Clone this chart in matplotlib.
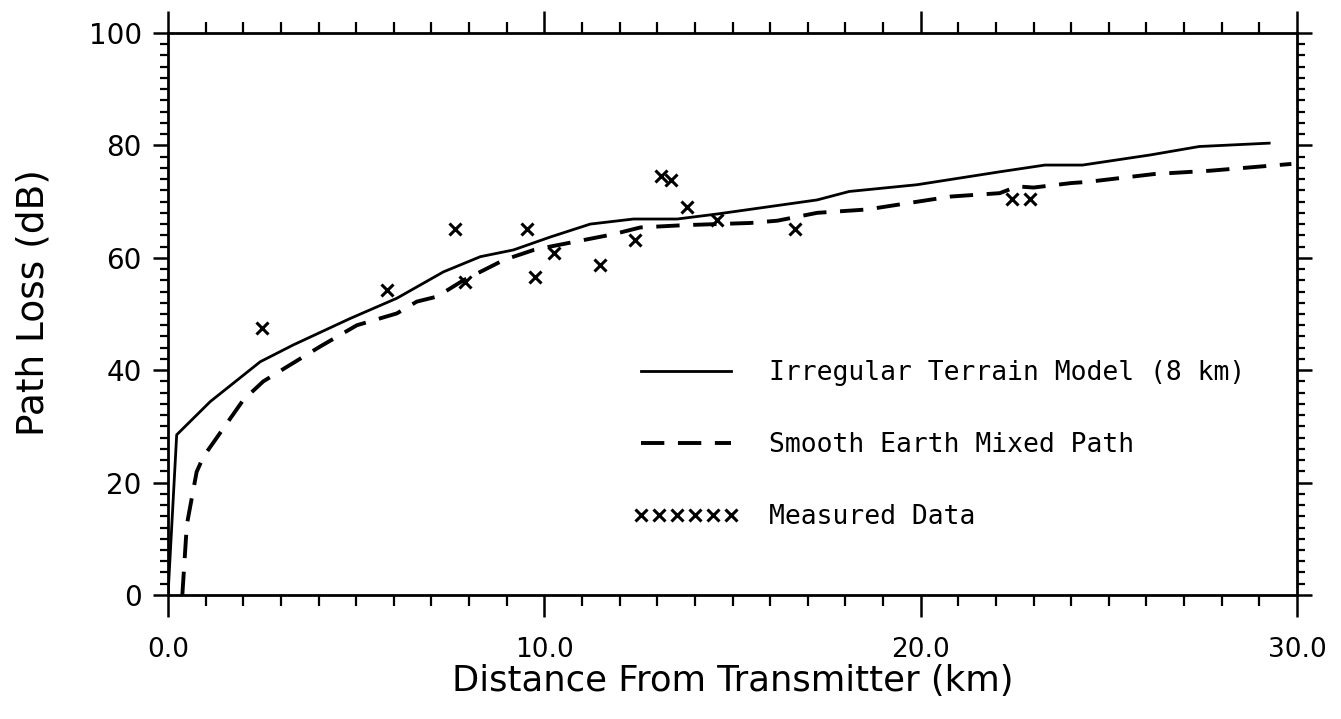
import matplotlib
matplotlib.use("Agg")
import matplotlib.pyplot as plt
from matplotlib.ticker import MultipleLocator, FixedFormatter, FixedLocator

# Irregular Terrain Model (8 km) - solid curve
itm_km = [0.0, 0.23, 1.12, 2.45, 3.33, 4.84, 6.08, 7.32, 8.3, 9.18, 10.16, 11.22,
          12.37, 13.53, 14.6, 17.25, 18.1, 19.9, 22.1, 23.3, 24.3, 26.1, 27.4, 29.26]
itm_db = [0.0, 28.5, 34.4, 41.5, 44.5, 49.2, 52.8, 57.5, 60.2, 61.4, 63.7, 66.0,
          66.9, 66.9, 67.8, 70.3, 71.8, 73.0, 75.3, 76.5, 76.5, 78.3, 79.8, 80.4]

# Smooth Earth Mixed Path - dashed curve
sem_km = [0.38, 0.5, 0.76, 0.94, 2.0, 2.53, 3.16, 4.04, 5.02, 6.08, 6.61, 7.15,
          7.85, 8.3, 8.92, 9.72, 10.16, 11.84, 12.55, 13.7, 15.48, 16.19, 17.25,
          18.58, 19.64, 20.8, 22.1, 22.57, 23.0, 24.0, 24.43, 26.2, 27.7, 29.85]
sem_db = [0.0, 12.5, 21.9, 24.6, 34.7, 38.0, 40.6, 44.2, 48.0, 50.1, 52.2, 53.1,
          56.0, 57.5, 59.6, 61.4, 62.0, 64.2, 65.4, 65.8, 66.2, 66.6, 68.0,
          68.6, 69.7, 70.9, 71.5, 72.7, 72.5, 73.3, 73.5, 74.9, 75.5, 76.7]

# measured points
meas_km = [2.5, 5.82, 7.63, 7.9, 9.55, 9.76, 10.25, 11.49, 12.42, 13.09, 13.37,
           13.8, 14.6, 16.67, 22.42, 22.9]
meas_db = [47.5, 54.3, 65.1, 55.7, 65.1, 56.6, 60.8, 58.7, 63.2, 74.6, 73.8,
           69.1, 66.7, 65.1, 70.4, 70.4]

x_major = [0, 10, 20, 30]
x_labels = ["0.0", "10.0", "20.0", "30.0"]
y_major = [0, 20, 40, 60, 80, 100]

fig = plt.figure(figsize=(13.41, 7.19), dpi=100)
ax = fig.add_axes([0.1253, 0.1725, 0.8419, 0.7816])

ax.plot(itm_km, itm_db, color="black", lw=2.0, label="Irregular Terrain Model (8 km)")
ax.plot(sem_km, sem_db, color="black", lw=2.8, linestyle=(0, (6, 3.5)),
        label="Smooth Earth Mixed Path")
ax.plot(meas_km, meas_db, linestyle="none", marker="x", color="black",
        markersize=9, markeredgewidth=2.2, label="Measured Data")

ax.set_xlim(0, 30)
ax.set_ylim(0, 100)

ax.xaxis.set_major_locator(FixedLocator(x_major))
ax.xaxis.set_major_formatter(FixedFormatter(x_labels))
ax.xaxis.set_minor_locator(MultipleLocator(1))
ax.yaxis.set_major_locator(FixedLocator(y_major))
ax.yaxis.set_minor_locator(MultipleLocator(2))

for s in ax.spines.values():
    s.set_linewidth(2.0)

ax.tick_params(axis="x", which="major", direction="out", length=16, width=1.8,
               top=True, bottom=True, labelsize=19, pad=14)
ax.tick_params(axis="x", which="minor", direction="out", length=8, width=1.6,
               top=True, bottom=True)
ax.tick_params(axis="y", which="major", direction="out", length=11, width=1.8,
               left=True, right=True, labelsize=20, pad=8)
ax.tick_params(axis="y", which="minor", direction="out", length=6, width=1.6,
               left=True, right=True)

ax.set_xlabel("Distance From Transmitter (km)", fontsize=25.5, labelpad=1)
ax.set_ylabel("Path Loss (dB)", fontsize=27)
ax.yaxis.set_label_coords(-0.103, 0.52)

ax.legend(loc="upper left", bbox_to_anchor=(0.412, 0.418), frameon=False,
          prop={"family": "DejaVu Sans Mono", "size": 19}, numpoints=6,
          handlelength=4.0, handletextpad=1.15, labelspacing=1.75,
          borderpad=0, borderaxespad=0)

fig.savefig("out.png", dpi=100)
